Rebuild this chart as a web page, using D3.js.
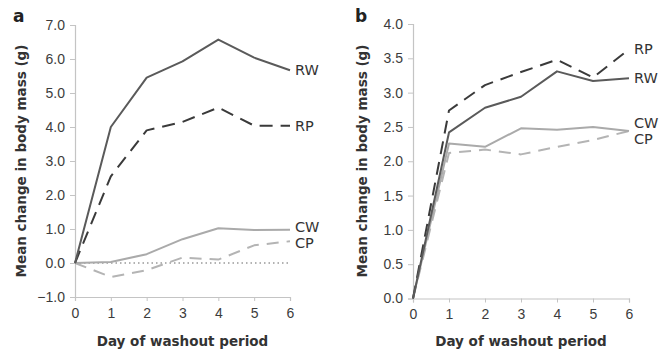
<!DOCTYPE html>
<html>
<head>
<meta charset="utf-8">
<script src="https://cdn.jsdelivr.net/npm/d3@7"></script>
<style>
  body { margin: 0; background: #fff; }
  svg { font-family: "DejaVu Sans", Verdana, sans-serif; }
</style>
</head>
<body>
<svg id="chart" width="659" height="352"></svg>
<script>
// days on the x axis
var days = [0, 1, 2, 3, 4, 5, 6];

// panel a
var aTicks = [-1, 0, 1, 2, 3, 4, 5, 6, 7];
var aRW = [0, 4.0, 5.45, 5.93, 6.57, 6.04, 5.67];
var aRP = [0, 2.55, 3.9, 4.15, 4.57, 4.04, 4.04];
var aCW = [0, 0.03, 0.26, 0.70, 1.02, 0.97, 0.98];
var aCP = [0, -0.41, -0.21, 0.16, 0.10, 0.52, 0.64];

// panel b
var bTicks = [0, 0.5, 1, 1.5, 2, 2.5, 3, 3.5, 4];
var bRW = [0, 2.42, 2.78, 2.94, 3.31, 3.17, 3.21];
var bRP = [0, 2.74, 3.11, 3.30, 3.48, 3.22, 3.63];
var bCW = [0, 2.26, 2.21, 2.48, 2.46, 2.50, 2.44];
var bCP = [0, 2.12, 2.17, 2.10, 2.21, 2.31, 2.44];

var seriesNames = ["RW", "RP", "CW", "CP"];

var styles = {
  RW: { color: "#5a5a5a", dash: null },
  RP: { color: "#3a3a3a", dash: "13,8" },
  CW: { color: "#aaaaaa", dash: null },
  CP: { color: "#b4b4b4", dash: "12,8" }
};

var svg = d3.select("#chart");

function drawPanel(p) {
  var x = d3.scaleLinear().domain([0, 6]).range(p.xr);
  var y = d3.scaleLinear().domain(p.domain).range(p.yr);
  var g = svg.append("g");

  // axes
  var yAxis = g.append("g").attr("transform", "translate(" + p.xr[0] + ",0)")
    .call(d3.axisLeft(y).tickValues(p.ticks).tickFormat(d3.format(".1f")).tickSize(5).tickPadding(5));
  var xAxis = g.append("g").attr("transform", "translate(0," + p.yr[0] + ")")
    .call(d3.axisBottom(x).tickValues(days).tickFormat(d3.format("d")).tickSize(4).tickPadding(7));
  [xAxis, yAxis].forEach(function(ax) {
    ax.select(".domain").attr("stroke", "#c4c4c4").attr("stroke-width", 1.2);
    ax.selectAll(".tick line").attr("stroke", "#c4c4c4");
    ax.selectAll("text").attr("fill", "#3c3c3c").style("font-size", "14px");
  });

  // zero line
  if (p.domain[0] < 0) {
    g.append("line")
      .attr("x1", x(0)).attr("x2", x(6))
      .attr("y1", y(0)).attr("y2", y(0))
      .attr("stroke", "#999").attr("stroke-width", 1.5)
      .attr("stroke-dasharray", "1.5,3");
  }

  var line = d3.line().x(function(d, i) { return x(days[i]); }).y(function(d) { return y(d); });

  // draw light ones first
  ["CP", "CW", "RP", "RW"].forEach(function(name) {
    var st = styles[name];
    g.append("path")
      .datum(p.series[name])
      .attr("d", line)
      .attr("fill", "none")
      .attr("stroke", st.color)
      .attr("stroke-width", 2)
      .attr("stroke-linejoin", "round")
      .attr("stroke-dasharray", st.dash);
  });

  seriesNames.forEach(function(name) {
    var vals = p.series[name];
    g.append("text")
      .attr("x", x(6) + 5)
      .attr("y", y(vals[6]) + (p.labelDy[name] || 0))
      .attr("dy", "0.36em")
      .attr("fill", "#333")
      .style("font-size", "14.5px")
      .text(name);
  });

  // titles
  g.append("text")
    .attr("x", (p.xr[0] + p.xr[1]) / 2)
    .attr("y", 346)
    .attr("text-anchor", "middle")
    .attr("fill", "#333")
    .style("font-size", "13.5px").style("font-weight", "bold")
    .text("Day of washout period");

  g.append("text")
    .attr("transform", "translate(" + p.titleX + ",161) rotate(-90)")
    .attr("text-anchor", "middle")
    .attr("fill", "#333")
    .style("font-size", "13.5px").style("font-weight", "bold")
    .text("Mean change in body mass (g)");

  g.append("text")
    .attr("x", p.letterX).attr("y", 22)
    .attr("fill", "#222")
    .style("font-size", "17px").style("font-weight", "bold")
    .text(p.letter);
}

drawPanel({
  letter: "a", letterX: 13, titleX: 26,
  xr: [75, 290], yr: [297, 25], domain: [-1, 7], ticks: aTicks,
  series: { RW: aRW, RP: aRP, CW: aCW, CP: aCP },
  labelDy: { RW: 0, RP: 0, CW: -3, CP: 2 }
});

drawPanel({
  letter: "b", letterX: 355, titleX: 367,
  xr: [413, 629], yr: [298.5, 24], domain: [0, 4], ticks: bTicks,
  series: { RW: bRW, RP: bRP, CW: bCW, CP: bCP },
  labelDy: { RW: 0, RP: -1, CW: -8.5, CP: 7.5 }
});
</script>
</body>
</html>
